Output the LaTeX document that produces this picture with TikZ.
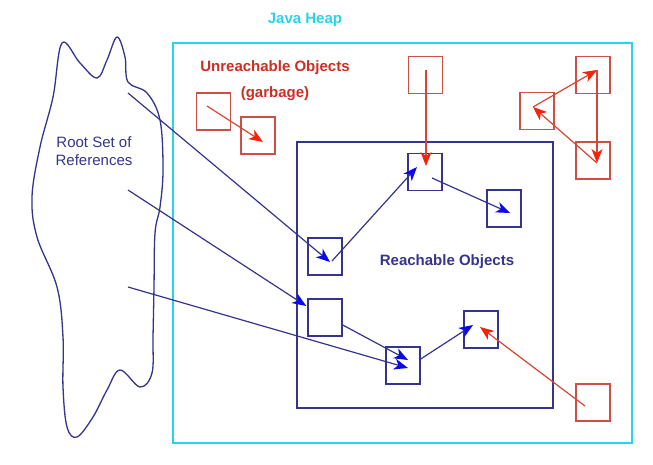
\documentclass[tikz,border=0pt]{standalone}
\usepackage{fontspec}
\setmainfont{Liberation Sans}
\usetikzlibrary{arrows.meta}

\definecolor{heapcyan}{RGB}{40,212,230}
\definecolor{navy}{RGB}{52,52,140}
\definecolor{refblue}{RGB}{10,10,235}
\definecolor{garbred}{RGB}{205,80,70}
\definecolor{redline}{RGB}{215,70,50}
\definecolor{redtip}{RGB}{245,35,10}
\definecolor{garbtext}{RGB}{205,45,35}

\begin{document}
\begin{tikzpicture}[
  x = 1pt, y = -1pt,
  obj/.style = {draw, line width = 1.4pt, minimum width = 34pt, minimum height = 37pt, inner sep = 0pt},
  live/.style = {obj, draw = navy},
  dead/.style = {obj, draw = garbred},
  ref/.style = {draw = navy, line width = 1.2pt, -{Stealth[length = 14pt, width = 11pt, inset = 4pt, color = refblue]}},
  deadref/.style = {draw = redline, line width = 1.2pt, -{Stealth[length = 14pt, width = 11pt, inset = 4pt, color = redtip]}},
  label/.style = {font = \fontsize{15}{17}\selectfont\bfseries}
]

\useasboundingbox (0,0) rectangle (653,464);

% heap and reachable area
\draw[heapcyan, line width = 2.5pt] (173,43) rectangle (632,443);
\draw[navy, line width = 1.4pt] (297,142) rectangle (553,408);

\node[label, text = heapcyan] (heap) at (305,20) {Java Heap};
\node[label, text = garbtext, align = center, font = \fontsize{15}{26}\selectfont\bfseries]
  (unreach) at (275,81) {Unreachable Objects\\(garbage)};
\node[label, text = navy] (reach) at (447,262) {Reachable Objects};

% root set
\draw[navy, line width = 1.3pt] plot[smooth cycle, tension = 0.6] coordinates {
  (62,43) (80,63) (97,78) (107,60) (117,37) (125,57) (128,82) (147,93)
  (160,120) (163,170) (160,207) (155,233) (154,287) (153,337) (152,373)
  (140,387) (120,370) (107,390) (93,417) (77,437) (67,427) (63,387)
  (63,337) (57,287) (37,237) (32,197) (40,147) (53,97)};
\node[text = navy, align = center, font = \fontsize{15}{18}\selectfont]
  (rootset) at (94,151) {Root Set of\\References};
\coordinate (root1) at (128,93);
\coordinate (root2) at (128,190);
\coordinate (root3) at (128,287);

% objects
\node[dead] (g1) at (213.5,111.5) {};
\node[dead] (g2) at (258,135.5) {};
\node[dead] (g3) at (425.5,75) {};
\node[dead] (g4) at (593,75) {};
\node[dead] (g5) at (537,111) {};
\node[dead] (g6) at (593,160.5) {};
\node[dead] (g7) at (593,402.5) {};

\node[live] (r1) at (425,172) {};
\node[live] (r2) at (504,208.5) {};
\node[live] (r3) at (325,256.5) {};
\node[live] (r4) at (325,317.5) {};
\node[live] (r5) at (403,365.5) {};
\node[live] (r6) at (481,329.5) {};

% references
\draw[ref] (root1) -- ([shift = {(5,5.5)}]r3.center);
\draw[ref] ([shift = {(7,4.5)}]r3.center) -- ([shift = {(-8,-5)}]r1.center);
\draw[ref] ([shift = {(7,6)}]r1.center) -- ([shift = {(6,4.5)}]r2.center);
\draw[ref] (root2) -- ([shift = {(-1,-11.5)}]r4.west);
\draw[ref] (root3) -- ([shift = {(5,2.5)}]r5.center);
\draw[ref] ([shift = {(0,7.5)}]r4.east) -- ([shift = {(5,-5.5)}]r5.center);
\draw[ref] ([shift = {(0,-6.5)}]r5.east) -- ([shift = {(-8,-4.5)}]r6.center);

\draw[deadref] ([shift = {(-8,3.5)}]g7.center) -- ([shift = {(-1,-2.5)}]r6.center);
\draw[deadref] ([shift = {(0.5,-5)}]g3.center) -- ([shift = {(1,-6)}]r1.center);
\draw[deadref] ([shift = {(-6.5,-5.5)}]g1.center) -- ([shift = {(5,6.5)}]g2.center);
\draw[deadref] ([shift = {(-4,-4)}]g5.center) -- ([shift = {(4,-5)}]g4.center);
\draw[deadref] ([shift = {(4,-5)}]g4.center) -- ([shift = {(4,2.5)}]g6.center);
\draw[deadref] ([shift = {(4,2.5)}]g6.center) -- ([shift = {(-4,-4)}]g5.center);

\end{tikzpicture}
\end{document}
